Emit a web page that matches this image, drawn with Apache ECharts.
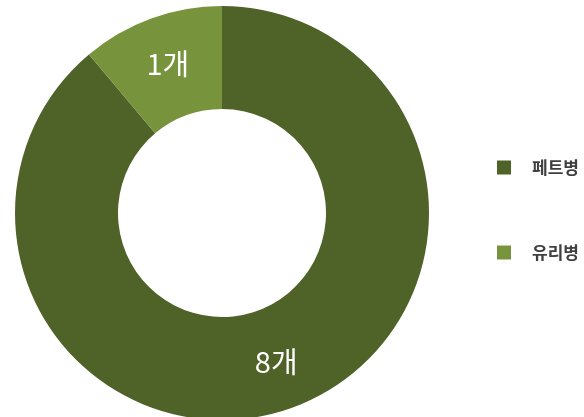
<!DOCTYPE html>
<html>
<head>
<meta charset="utf-8">
<script src="https://cdn.jsdelivr.net/npm/echarts@6/dist/echarts.min.js"></script>
<style>
html,body{margin:0;padding:0;background:#fff;}
#chart{width:584px;height:417px;}
</style>
</head>
<body>
<div id="chart"></div>
<script>
const categories = ['페트병', '유리병'];
const values = [8, 1];
const unit = '개';
const colors = ['#4F6228', '#77933C'];

const chart = echarts.init(document.getElementById('chart'), null, {renderer: 'canvas'});
chart.setOption({
  animation: false,
  backgroundColor: '#ffffff',
  color: colors,
  legend: {
    orient: 'vertical',
    left: 497,
    top: 159,
    padding: 0,
    itemWidth: 14,
    itemHeight: 14,
    itemGap: 68,
    icon: 'rect',
    data: categories,
    textStyle: {
      fontFamily: 'Noto Sans CJK KR',
      fontSize: 17,
      fontWeight: 'bold',
      color: '#404040',
      padding: [0, 0, 0, 16]
    }
  },
  series: [{
    type: 'pie',
    center: [222, 213],
    radius: [104, 207],
    startAngle: 90,
    clockwise: true,
    silent: true,
    label: {
      show: true,
      position: 'inside',
      formatter: function (p) { return p.value + unit; },
      color: '#ffffff',
      fontFamily: 'Noto Sans CJK KR',
      fontSize: 29,
      fontWeight: 'normal'
    },
    labelLine: {show: false},
    itemStyle: {borderWidth: 0},
    data: categories.map((c, i) => ({name: c, value: values[i]}))
  }]
});
</script>
</body>
</html>
